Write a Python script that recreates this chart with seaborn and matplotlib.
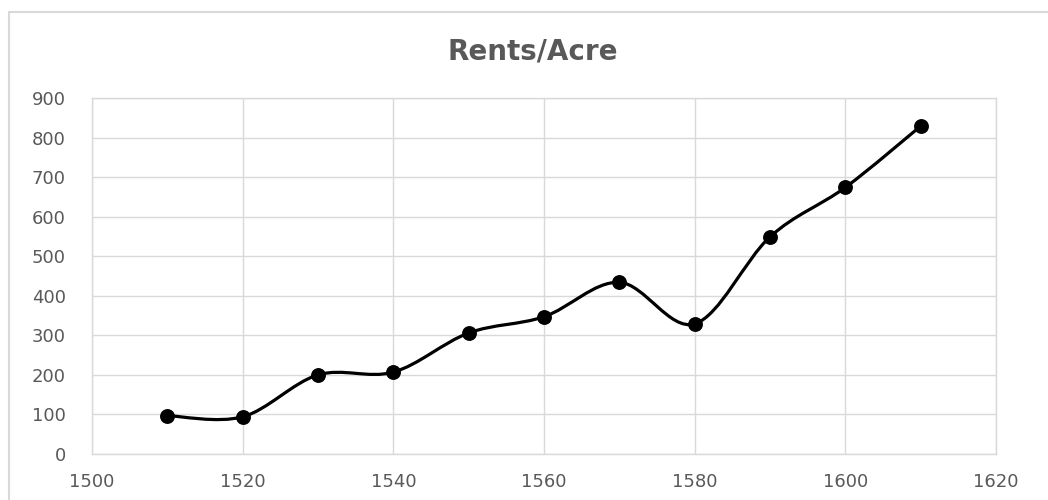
import numpy as np
import pandas as pd
import matplotlib
matplotlib.use("Agg")
import matplotlib.pyplot as plt
from matplotlib.path import Path
from matplotlib.patches import PathPatch, Rectangle
import seaborn as sns

# data
years = [1510, 1520, 1530, 1540, 1550, 1560, 1570, 1580, 1590, 1600, 1610]
rents = [97, 94, 200, 207, 306, 347, 434, 329, 549, 674, 829]
x_ticks = [1500, 1520, 1540, 1560, 1580, 1600, 1620]
y_ticks = [0, 100, 200, 300, 400, 500, 600, 700, 800, 900]
title = "Rents/Acre"

df = pd.DataFrame({"year": years, "rent": rents})

sns.set_style("white")
plt.rcParams['font.family'] = ['DejaVu Sans']
text_col = "#595959"
grid_col = "#d9d9d9"

fig = plt.figure(figsize=(10.48, 5.0), dpi=100)
ax = fig.add_axes([0.0878, 0.092, 0.8626, 0.712])

# chart area border, like the Excel chart frame
fig.patches.append(Rectangle((9 / 1048, -0.1), 1.2, 1 - 12 / 500 + 0.1,
                             transform=fig.transFigure, fill=False,
                             edgecolor=grid_col, linewidth=1.5))


def smooth_path(xs, ys):
    # Excel-style smoothed line: cubic bezier with catmull-rom control points
    pts = np.column_stack([xs, ys]).astype(float)
    ext = np.vstack([pts[0], pts, pts[-1]])
    verts = [pts[0]]
    codes = [Path.MOVETO]
    for i in range(1, len(ext) - 2):
        p0, p1, p2, p3 = ext[i - 1], ext[i], ext[i + 1], ext[i + 2]
        c1 = p1 + (p2 - p0) / 6
        c2 = p2 - (p3 - p1) / 6
        verts += [c1, c2, p2]
        codes += [Path.CURVE4] * 3
    return Path(verts, codes)


ax.add_patch(PathPatch(smooth_path(df["year"], df["rent"]), facecolor="none",
                       edgecolor="black", linewidth=2.3, zorder=3))
sns.scatterplot(data=df, x="year", y="rent", ax=ax, color="black", s=115,
                edgecolor="black", linewidth=0, zorder=4, legend=False)

ax.set_xlim(1500, 1620)
ax.set_ylim(0, 900)
ax.set_xticks(x_ticks)
ax.set_yticks(y_ticks)
ax.grid(True, color=grid_col, linewidth=1)
ax.set_axisbelow(True)
for s in ax.spines.values():
    s.set_color(grid_col)
    s.set_linewidth(1)
ax.tick_params(axis="both", length=0, labelsize=13, colors=text_col)
ax.tick_params(axis="x", pad=14)
ax.tick_params(axis="y", pad=19)
ax.set_xlabel("")
ax.set_ylabel("")

fig.text(0.508, 0.898, title, ha="center", va="center", fontsize=20,
         fontweight="bold", color=text_col)

fig.savefig("out.png", dpi=100)
